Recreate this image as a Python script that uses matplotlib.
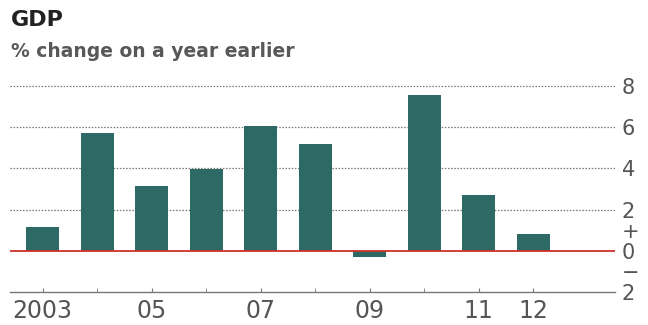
import matplotlib
matplotlib.use("Agg")
import matplotlib.pyplot as plt

# GDP, % change on a year earlier
years = [2003, 2004, 2005, 2006, 2007, 2008, 2009, 2010, 2011, 2012]
growth = [1.15, 5.7, 3.15, 3.95, 6.07, 5.17, -0.3, 7.55, 2.71, 0.82]

xtick_pos = [2003, 2005, 2007, 2009, 2011, 2012]
xtick_labels = ["2003", "05", "07", "09", "11", "12"]
ytick_pos = [-2, -1, 0, 1, 2, 4, 6, 8]
ytick_labels = ["2", "\u2212", "0", "+", "2", "4", "6", "8"]
grid_levels = [2, 4, 6, 8]

BAR = "#2E6A65"
RED = "#D0302A"
GREY = "#555555"

fig = plt.figure(figsize=(6.48, 3.25), dpi=100)
ax = fig.add_axes([0.0154, 0.1015, 0.9336, 0.6535])

for lvl in grid_levels:
    ax.axhline(lvl, color="#777777", linestyle=(0, (1.2, 1.3)), linewidth=0.9, zorder=1)
ax.axhline(0, color=RED, linewidth=1.3, zorder=3)

ax.bar(years, growth, width=0.6, color=BAR, zorder=2)

ax.set_xlim(2002.4, 2013.5)
ax.set_ylim(-2, 8.3)

for side in ("top", "left", "right"):
    ax.spines[side].set_visible(False)
ax.spines["bottom"].set_color("#777777")
ax.spines["bottom"].set_linewidth(1.0)

ax.set_xticks(xtick_pos)
ax.set_xticklabels(xtick_labels, fontsize=17, color=GREY)
ax.set_xticks(years, minor=True)
ax.tick_params(axis="x", which="both", direction="in", length=3, color="#777777", pad=5)

ax.yaxis.tick_right()
ax.set_yticks(ytick_pos)
ax.set_yticklabels(ytick_labels, fontsize=15, color=GREY)
ax.tick_params(axis="y", length=0, pad=5)

fig.text(0.017, 0.938, "GDP", fontsize=16, fontweight="bold", color="#222222", va="center")
fig.text(0.017, 0.843, "% change on a year earlier", fontsize=13.5,
         fontweight="bold", color="#585858", va="center")

fig.savefig("out.png", dpi=100)
